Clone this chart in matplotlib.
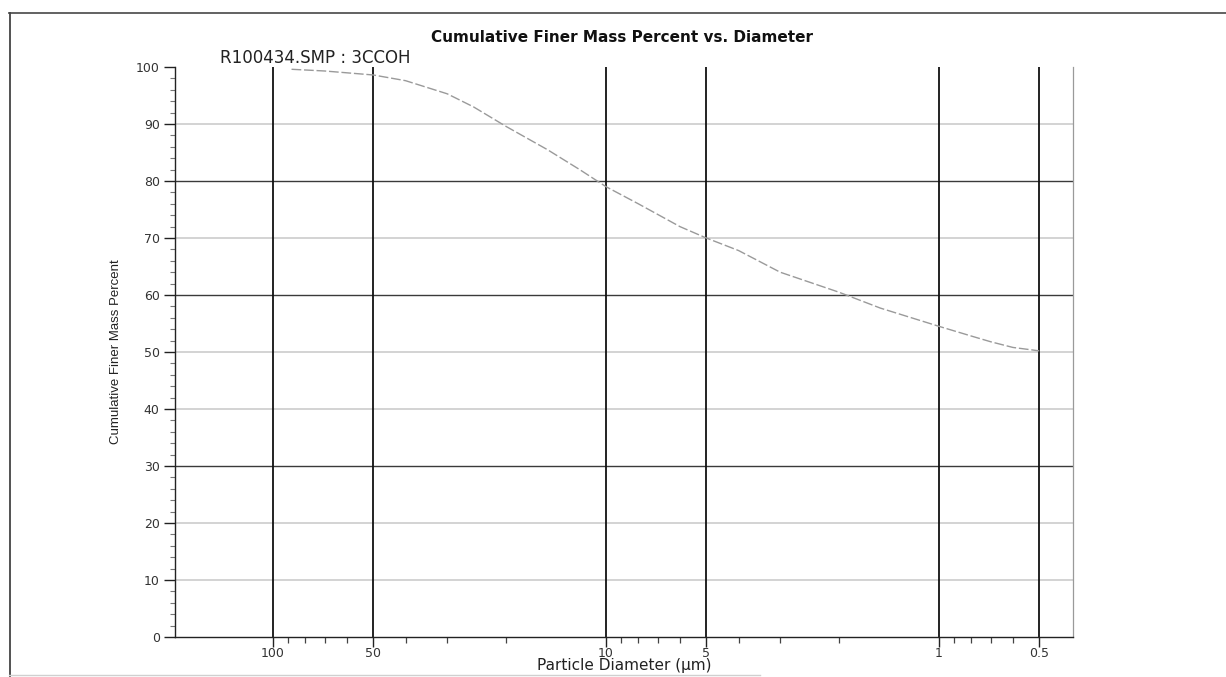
import matplotlib
matplotlib.use("Agg")
import matplotlib.pyplot as plt
from matplotlib.ticker import FixedLocator, NullFormatter, FixedFormatter
from matplotlib.lines import Line2D

# Cumulative finer mass percent vs. particle diameter (sedigraph run)
diameter_um = [88, 70, 50, 40, 30, 25, 20, 15, 12, 10, 8, 6, 5, 4, 3, 2, 1.5, 1.0, 0.8, 0.7, 0.6, 0.5]
finer_pct = [99.6, 99.3, 98.6, 97.6, 95.3, 93.0, 89.6, 85.5, 82.0, 79.0, 76.0, 72.0, 70.0,
             67.8, 64.0, 60.5, 57.7, 54.5, 52.8, 51.8, 50.8, 50.2]

x_major = [100, 50, 10, 5, 1, 0.5]
x_major_labels = ["100", "50", "10", "5", "1", "0.5"]
x_minor = [90, 80, 70, 60, 40, 30, 20, 9, 8, 7, 6, 4, 3, 2, 0.9, 0.8, 0.7, 0.6]
y_major = list(range(0, 101, 10))
y_minor = list(range(0, 101, 2))
grid_dark = [80, 60, 30]
grid_light = [10, 20, 40, 50, 70, 90]

title = "Cumulative Finer Mass Percent vs. Diameter"
sample_label = "R100434.SMP : 3CCOH"
xlabel = "Particle Diameter (\u00b5m)"
ylabel = "Cumulative Finer Mass Percent"

plt.rcParams["font.family"] = ["DejaVu Sans"]

fig = plt.figure(figsize=(12.26, 6.77), dpi=100)
ax = fig.add_axes([175 / 1226, 1 - 637 / 677, (1073 - 175) / 1226, (637 - 67) / 677])

ax.set_xscale("log")
ax.set_xlim(197, 0.396)
ax.set_ylim(0, 100)

# grid
for g in grid_light:
    ax.axhline(g, color="#c8c8c8", lw=1.1, zorder=1)
for g in grid_dark:
    ax.axhline(g, color="#3a3a3a", lw=1.0, zorder=1)
for v in x_major:
    ax.axvline(v, color="#111111", lw=1.3, zorder=2)

# data curve
ax.plot(diameter_um, finer_pct, color="#9a9a9a", lw=1.0, ls=(0, (7, 2)), zorder=3)

# spines
ax.spines["top"].set_visible(False)
ax.spines["right"].set_color("#9a9a9a")
ax.spines["right"].set_linewidth(0.9)
for s in ("left", "bottom"):
    ax.spines[s].set_color("#222222")
    ax.spines[s].set_linewidth(1.0)

# ticks
ax.xaxis.set_major_locator(FixedLocator(x_major))
ax.xaxis.set_major_formatter(FixedFormatter(x_major_labels))
ax.xaxis.set_minor_locator(FixedLocator(x_minor))
ax.xaxis.set_minor_formatter(NullFormatter())
ax.yaxis.set_major_locator(FixedLocator(y_major))
ax.yaxis.set_minor_locator(FixedLocator(y_minor))
ax.tick_params(axis="both", which="major", direction="out", width=1.0,
               labelsize=9, colors="#222222", labelcolor="#333333")
ax.tick_params(axis="x", which="major", length=7, pad=0)
ax.tick_params(axis="y", which="major", length=8, pad=3)
ax.tick_params(axis="x", which="minor", direction="out", length=4, width=0.9,
               colors="#444444")
ax.tick_params(axis="y", which="minor", direction="out", length=3.5, width=0.8,
               colors="#777777")

ax.set_xlabel(xlabel, fontsize=11, labelpad=-1, color="#222222")
ax.set_ylabel(ylabel, fontsize=9.5, labelpad=10, color="#222222",
              family=["Liberation Sans", "DejaVu Sans"])

fig.text(622 / 1226, 1 - 37 / 677, title, ha="center", va="center",
         fontsize=11, fontweight="bold", color="#111111")
ax.text(0.05, 1.0, sample_label, transform=ax.transAxes, ha="left", va="bottom",
        fontsize=12, color="#222222")

# page frame
fig.add_artist(Line2D([9 / 1226, 1.0], [1 - 13 / 677, 1 - 13 / 677],
                      transform=fig.transFigure, color="#555555", lw=1.3))
fig.add_artist(Line2D([10 / 1226, 10 / 1226], [1 - 13 / 677, 0.0],
                      transform=fig.transFigure, color="#444444", lw=1.3))
fig.add_artist(Line2D([9 / 1226, 0.62], [1 - 675 / 677, 1 - 675 / 677],
                      transform=fig.transFigure, color="#d0d0d0", lw=1.0))

fig.savefig("out.png", dpi=100)
